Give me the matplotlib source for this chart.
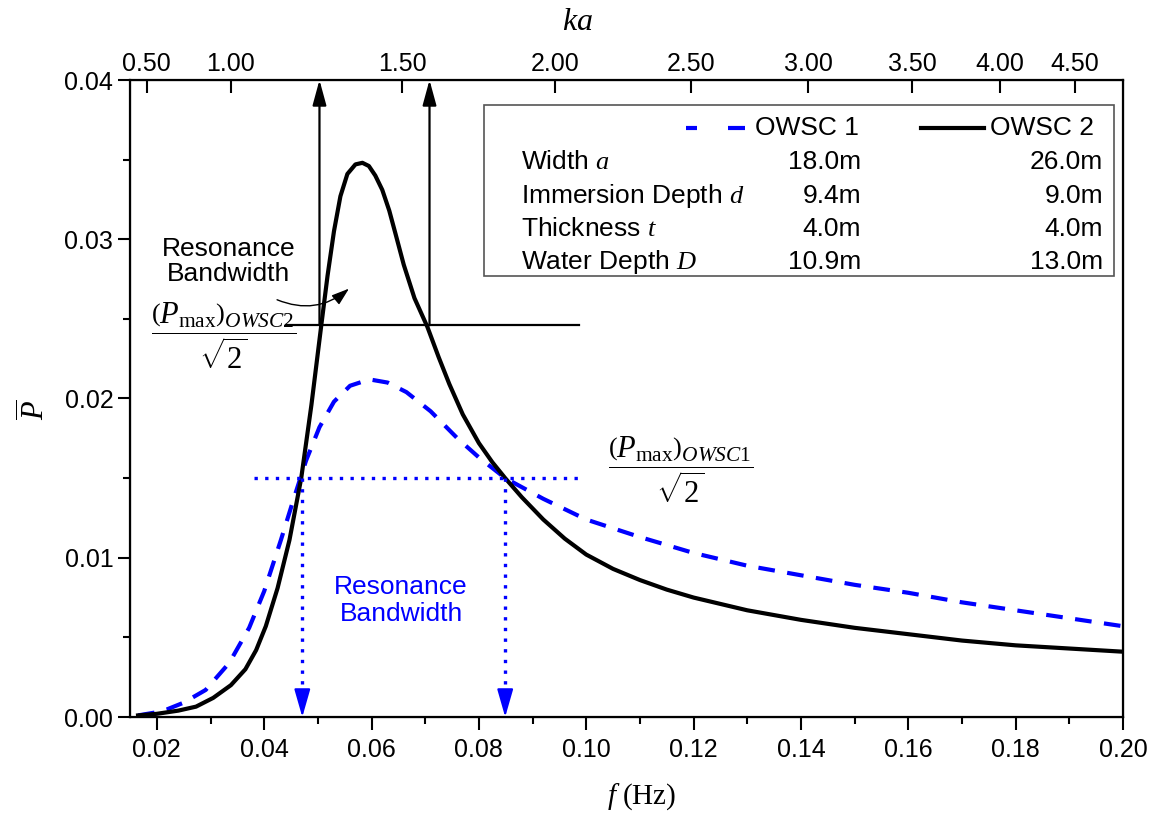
import matplotlib
matplotlib.use("Agg")
import matplotlib.pyplot as plt
from matplotlib.patches import Rectangle

plt.rcParams['font.family'] = ['Liberation Sans', 'DejaVu Sans']
plt.rcParams['mathtext.fontset'] = 'custom'
plt.rcParams['mathtext.rm'] = 'Liberation Serif'
plt.rcParams['mathtext.it'] = 'Liberation Serif:italic'
plt.rcParams['mathtext.bf'] = 'Liberation Serif:bold'

# ---------------- data ----------------
f_owsc2 = [0.0165, 0.0200, 0.0240, 0.0273, 0.0305, 0.0338, 0.0365, 0.0385, 0.0403,
           0.0425, 0.0447, 0.0469, 0.0488, 0.0506, 0.0518, 0.0530, 0.0542, 0.0555,
           0.0570, 0.0583, 0.0595, 0.0607, 0.0620, 0.0633, 0.0645, 0.0660, 0.0680,
           0.0704, 0.0725, 0.0745, 0.0770, 0.0800, 0.0825, 0.0849, 0.0880, 0.0920,
           0.0960, 0.1000, 0.1050, 0.1100, 0.1150, 0.1200, 0.1300, 0.1400, 0.1500,
           0.1600, 0.1700, 0.1800, 0.1900, 0.2000]
p_owsc2 = [0.0001, 0.0002, 0.0004, 0.00065, 0.0012, 0.0020, 0.0030, 0.0042, 0.0057,
           0.0081, 0.0111, 0.0150, 0.0196, 0.0245, 0.0277, 0.0305, 0.0327, 0.0341,
           0.0347, 0.0348, 0.0346, 0.0340, 0.0331, 0.0318, 0.0303, 0.0284, 0.0263,
           0.0245, 0.0226, 0.0209, 0.0190, 0.0172, 0.0160, 0.0150, 0.0138, 0.0124,
           0.0112, 0.0102, 0.0093, 0.0086, 0.0080, 0.0075, 0.0067, 0.0061, 0.0056,
           0.0052, 0.0048, 0.0045, 0.0043, 0.0041]

f_owsc1 = [0.0165, 0.0200, 0.0219, 0.0250, 0.0291, 0.0335, 0.0372, 0.0400, 0.0431,
           0.0455, 0.0478, 0.0503, 0.0530, 0.0560, 0.0596, 0.0630, 0.0665, 0.0710,
           0.0760, 0.0800, 0.0849, 0.0920, 0.1000, 0.1100, 0.1200, 0.1300, 0.1400,
           0.1500, 0.1600, 0.1700, 0.1800, 0.1900, 0.2000]
p_owsc1 = [0.0001, 0.0003, 0.00048, 0.0009, 0.0017, 0.0034, 0.0056, 0.0079, 0.0111,
           0.0137, 0.0161, 0.0182, 0.0198, 0.0208, 0.0212, 0.0210, 0.0204, 0.0192,
           0.0175, 0.0163, 0.0150, 0.0137, 0.0124, 0.0113, 0.0103, 0.0095, 0.0089,
           0.0083, 0.0078, 0.0072, 0.0067, 0.0062, 0.0057]

ka_labels = ['0.50', '1.00', '1.50', '2.00', '2.50', '3.00', '3.50', '4.00', '4.50']
ka_f_pos = [0.0181, 0.0338, 0.0657, 0.0942, 0.1196, 0.1414, 0.1607, 0.1770, 0.1911]

x_ticks = [0.02, 0.04, 0.06, 0.08, 0.10, 0.12, 0.14, 0.16, 0.18, 0.20]
y_ticks = [0.00, 0.01, 0.02, 0.03, 0.04]

# bandwidth markers
p_half_2 = 0.0246              # (Pmax)_OWSC2 / sqrt(2)
band_f_2 = [0.0503, 0.0708]
p_half_1 = 0.0150              # (Pmax)_OWSC1 / sqrt(2)
band_f_1 = [0.0471, 0.0849]

table_rows = ['Width $a$', 'Immersion Depth $d$', 'Thickness $t$', 'Water Depth $D$']
table_owsc1 = ['18.0m', '9.4m', '4.0m', '10.9m']
table_owsc2 = ['26.0m', '9.0m', '4.0m', '13.0m']

BLUE = '#0000ff'

# ---------------- figure ----------------
fig = plt.figure(figsize=(11.59, 8.21), dpi=100)
ax = fig.add_axes([130/1159, 1-717/821, 993/1159, 637/821])

ax.plot(f_owsc1, p_owsc1, color=BLUE, lw=3.0, linestyle=(0, (4, 3)), zorder=3)
ax.plot(f_owsc2, p_owsc2, color='black', lw=3.0, zorder=4)

ax.set_xlim(0.015, 0.20)
ax.set_ylim(0.0, 0.04)
ax.set_xticks(x_ticks)
ax.set_xticklabels(['%.2f' % v for v in x_ticks])
ax.set_yticks(y_ticks)
ax.set_yticklabels(['%.2f' % v for v in y_ticks])
ax.set_xticks([0.03, 0.05, 0.07, 0.09, 0.11, 0.13, 0.15, 0.17, 0.19], minor=True)
ax.set_yticks([0.005, 0.015, 0.025, 0.035], minor=True)
ax.tick_params(axis='both', which='major', direction='out', length=9, width=1.5,
               labelsize=18)
ax.tick_params(axis='both', which='minor', direction='out', length=5, width=1.5)
ax.tick_params(axis='x', pad=6)
ax.tick_params(axis='y', pad=3)
for s in ax.spines.values():
    s.set_linewidth(1.6)

# top ka axis
ax2 = ax.twiny()
ax2.set_xlim(ax.get_xlim())
ax2.set_xticks(ka_f_pos)
ax2.set_xticklabels(ka_labels)
ax2.tick_params(axis='x', which='major', direction='in', length=9, width=1.5,
                labelsize=18, pad=3)

fig.text(577/1159, 1-22/821, '$ka$', fontsize=23, ha='center', va='center')
fig.text(642/1159, 1-797/821, r'$f\ (\mathrm{Hz})$', fontsize=21, ha='center',
         va='center')
fig.text(35/1159, 1-410/821, r'$\overline{P}$', fontsize=22, ha='center', va='center',
         rotation=90)

# OWSC2 bandwidth: horizontal line + upward arrows
ax.plot([0.0440, 0.0987], [p_half_2, p_half_2], color='black', lw=1.6, zorder=5)
for fx in band_f_2:
    ax.annotate('', xy=(fx, 0.04), xytext=(fx, p_half_2),
                arrowprops=dict(arrowstyle='-|>,head_length=1.1,head_width=0.3',
                                mutation_scale=14, color='black', lw=1.6,
                                shrinkA=0, shrinkB=0), zorder=5)

# OWSC1 bandwidth: dotted lines + downward arrows
ax.plot([0.0381, 0.0987], [p_half_1, p_half_1], color=BLUE, lw=2.4,
        linestyle=(0, (1, 2.2)), zorder=5)
for fx in band_f_1:
    ax.plot([fx, fx], [p_half_1, 0.0014], color=BLUE, lw=2.4,
            linestyle=(0, (1, 2.2)), zorder=5)
    ax.annotate('', xy=(fx, 0.0), xytext=(fx, 0.0014),
                arrowprops=dict(arrowstyle='-|>,head_length=1.15,head_width=0.33',
                                mutation_scale=15, color=BLUE, lw=1.5,
                                shrinkA=0, shrinkB=0), zorder=6)

# annotations
ax.text(0.0333, 0.0286, 'Resonance\nBandwidth', fontsize=19, ha='center',
        va='center', linespacing=1.05, color='black')
ax.annotate('', xy=(0.0558, 0.0269), xytext=(0.0424, 0.0262),
            arrowprops=dict(arrowstyle='-|>,head_length=0.9,head_width=0.3',
                            mutation_scale=12, color='black', lw=1.0,
                            connectionstyle='arc3,rad=0.3', shrinkA=0, shrinkB=0))
ax.text(0.0655, 0.0073, 'Resonance\nBandwidth', fontsize=19, ha='center',
        va='center', linespacing=1.15, color=BLUE)

ax.text(0.0324, 0.0239, r'$\dfrac{\left(P_{\max}\right)_{OWSC2}}{\sqrt{2}}$',
        fontsize=22, ha='center', va='center')
ax.text(0.1175, 0.0155, r'$\dfrac{\left(P_{\max}\right)_{OWSC\mathrm{1}}}{\sqrt{2}}$',
        fontsize=22, ha='center', va='center')

# legend / table box
T = ax.transAxes
ax.add_patch(Rectangle((0.3565, 0.6923), 0.9909-0.3565, 0.9608-0.6923,
                       transform=T, fill=True, facecolor='white',
                       edgecolor='#555555', lw=1.2, zorder=7))
row_y = [0.9246, 0.8713, 0.8179, 0.7661, 0.7143]
for seg in ([0.5599, 0.5710], [0.6022, 0.6193]):
    ax.plot(seg, [row_y[0], row_y[0]], transform=T, color=BLUE, lw=3.0,
            solid_capstyle='butt', zorder=8)
ax.plot([0.7966, 0.8600], [row_y[0], row_y[0]], transform=T, color='black',
        lw=3.0, zorder=8)
ax.text(0.6294, row_y[0], 'OWSC 1', transform=T, fontsize=19, va='center',
        ha='left', zorder=8)
ax.text(0.8661, row_y[0], 'OWSC 2', transform=T, fontsize=19, va='center',
        ha='left', zorder=8)
for i, lab in enumerate(table_rows):
    y = row_y[i + 1]
    ax.text(0.3938, y, lab, transform=T, fontsize=19, va='center', ha='left', zorder=8)
    ax.text(0.7362, y, table_owsc1[i], transform=T, fontsize=19, va='center',
            ha='right', zorder=8)
    ax.text(0.9799, y, table_owsc2[i], transform=T, fontsize=19, va='center',
            ha='right', zorder=8)

fig.savefig('out.png', dpi=100)
